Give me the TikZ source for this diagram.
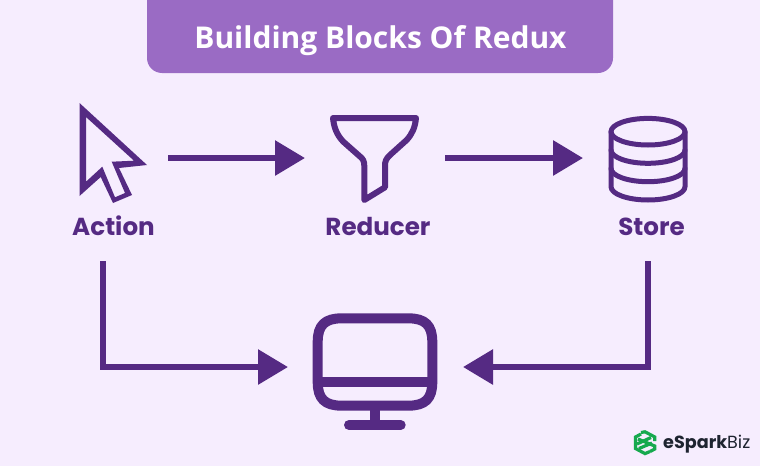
\documentclass[tikz,border=0pt]{standalone}
\usepackage{fontspec}
\usetikzlibrary{arrows.meta}
\newfontfamily\popfont{Poppins}
\newfontfamily\opfont{Open Sans}
\definecolor{bgc}{HTML}{F6EDFE}
\definecolor{headc}{HTML}{9A6BC4}
\definecolor{darkc}{HTML}{552A83}
\definecolor{greenc}{HTML}{16A94E}
\definecolor{inkc}{HTML}{1E2430}
\tikzset{
  label text/.style={text=darkc,inner sep=0pt,anchor=base,font=\popfont\bfseries\fontsize{24.6}{28}\selectfont},
  flow/.style={draw=darkc,line width=6pt,-{Triangle[length=30pt,width=34pt]}},
  icon/.style={draw=darkc,line join=round,line cap=round},
  logo/.style={draw=greenc,line width=3.2pt,line join=miter}
}
\begin{document}
\begin{tikzpicture}[x=1pt,y=-1pt]
\useasboundingbox (0,0) rectangle (760,466);
\fill[bgc] (0,0) rectangle (760,466);
% header
\fill[headc,rounded corners=15pt] (147,-30) rectangle (613,73);
\node[inner sep=0pt,anchor=base,text=white,font=\opfont\bfseries\fontsize{30}{34}\selectfont] (title) at (380.5,48) {Building Blocks Of Redux};
% cursor
\fill[darkc,even odd rule] (79.5,103) -- (147,165) -- (119,168) -- (132,195) -- (113,203) -- (100.7,177) -- (79.5,196) -- cycle
  (86,117) -- (134,160.7) -- (111.7,161.7) -- (125,193) -- (115,197.3) -- (102.3,166.7) -- (86,181.7) -- cycle;
% funnel
\draw[icon,line width=6pt] (333,118) -- (416,118) .. controls (415,128) and (412,134) .. (406.7,140)
  -- (390,155) .. controls (386,159) and (385,161) .. (385,166) -- (385,187.3) -- (364.3,200) -- (364.3,166)
  .. controls (364.3,161) and (363,159) .. (360,156.5) -- (343.3,141.7) .. controls (337,135) and (334,128) .. (333,118) -- cycle;
% database
\draw[icon,line width=5pt] (648,131.7) ellipse [x radius=37pt,y radius=13.3pt];
\draw[icon,line width=5pt] (611,131.7) -- (611,186.7) arc [start angle=180,end angle=360,x radius=37pt,y radius=13.3pt] -- (685,131.7);
\draw[icon,line width=5pt] (611,150) arc [start angle=180,end angle=360,x radius=37pt,y radius=13.3pt];
\draw[icon,line width=5pt] (611,168.4) arc [start angle=180,end angle=360,x radius=37pt,y radius=13.3pt];
% monitor
\draw[icon,line width=10pt] (342,318.3) -- (408,318.3) .. controls (425,318.3) and (432.3,325) .. (432.3,342)
  -- (432.3,382) .. controls (432.3,399) and (425,405.7) .. (408,405.7) -- (342,405.7)
  .. controls (325,405.7) and (317.7,399) .. (317.7,382) -- (317.7,342) .. controls (317.7,325) and (325,318.3) .. (342,318.3) -- cycle;
\draw[darkc,line width=10pt] (317.7,381.7) -- (432.3,381.7);
\draw[darkc,line width=10pt] (375,405.7) -- (375,425);
\draw[icon,line width=10pt] (349,425) -- (400.7,425);
% labels
\node[label text] (action) at (113.5,235) {Action};
\node[label text] (reducer) at (378,235) {Reducer};
\node[label text] (store) at (651.5,235) {Store};
% connector anchors
\coordinate (cursorR) at (168,158);
\coordinate (funnelL) at (305,158);
\coordinate (funnelR) at (445,158);
\coordinate (dbL) at (583,158);
\coordinate (actionB) at (103,261);
\coordinate (storeB) at (648,261);
\coordinate (screenL) at (288,367);
\coordinate (screenR) at (463,367);
\draw[flow] (cursorR) -- (funnelL);
\draw[flow] (funnelR) -- (dbL);
\draw[flow] (actionB) |- (screenL);
\draw[flow] (storeB) |- (screenR);
% logo
\draw[logo] (641,432.5) -- (645,431.8) -- (654.8,437) -- (654.8,441);
\draw[logo] (650,451.5) -- (645,453.6) -- (635.5,448.5) -- (635.5,444);
\draw[logo] (635.5,444) -- (635.5,437) -- (641,434);
\draw[logo] (638,439) -- (651,444.5) -- (654.8,446) -- (654.8,449) -- (650,451.5);
\draw[logo] (637,444) -- (651,437.5);
\draw[logo] (639,448.5) -- (652,443);
\node[inner sep=0pt,anchor=base west,text=inkc,font=\popfont\fontsize{17.6}{20}\selectfont] (brand) at (663,448.5) {\textbf{eSpark}Biz};
\end{tikzpicture}
\end{document}
